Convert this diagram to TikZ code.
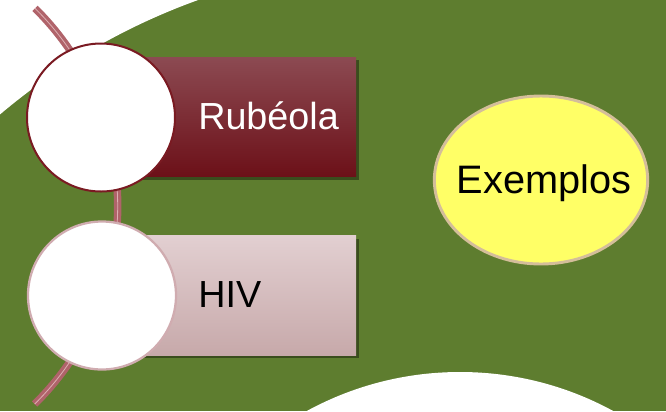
\documentclass[tikz,border=0pt]{standalone}
\usepackage{fontspec}
\setmainfont{Liberation Sans}
\usetikzlibrary{shadows,shapes.geometric}
\definecolor{bggreen}{HTML}{5E7D2F}
\definecolor{arcpink}{HTML}{B0636A}
\definecolor{arccore}{HTML}{DDB0B3}
\definecolor{darkred}{HTML}{7A1A22}
\definecolor{redtop}{HTML}{8C4A52}
\definecolor{redbot}{HTML}{6C1018}
\definecolor{pinktop}{HTML}{E2CFD1}
\definecolor{pinkbot}{HTML}{C7A9AA}
\definecolor{pinkborder}{HTML}{D0ACB0}
\definecolor{tan}{HTML}{D4BE9A}
\definecolor{lemon}{HTML}{FFFF66}
\tikzset{
  arcouter/.style={draw=arcpink, line width=5.6pt},
  arcinner/.style={draw=arccore, line width=0.6pt},
  bar/.style={rectangle, minimum width=191.25pt, minimum height=89.5pt, inner sep=0pt,
    drop shadow={shadow xshift=2pt, shadow yshift=-2.2pt, opacity=0.38, fill=black}},
  redbar/.style={bar, top color=redtop, middle color=darkred, bottom color=redbot},
  pinkbar/.style={bar, top color=pinktop, bottom color=pinkbot},
  disc/.style={circle, fill=white, minimum size=111pt, inner sep=0pt},
  lbl/.style={font=\fontsize{28.3}{34}\selectfont, inner sep=0pt, anchor=base west},
  oval/.style={ellipse, fill=lemon, draw=tan, line width=2.2pt, minimum width=160pt, minimum height=126pt, inner sep=0pt}
}
\begin{document}
\begin{tikzpicture}[x=0.75pt, y=0.75pt]
\useasboundingbox (0,0) rectangle (666,-411);
% background
\fill[bggreen] (0,0) rectangle (666,-411);
\fill[white] (416,-606) ++(130.24:644) arc[start angle=130.24, end angle=109.58, radius=644] -- (0,0) -- cycle;
\fill[white] (460,-692) circle (320);
% arc
\draw[arcouter] (-160,-206) ++(45.4:277.7) arc[start angle=45.4, end angle=-45.5, radius=277.7];
\draw[arcinner] (-160,-206) ++(45.4:277.7) arc[start angle=45.4, end angle=-45.5, radius=277.7];
% bars
\node[redbar] (bar1) at (228.5,-117) {};
\node[pinkbar] (bar2) at (228.5,-295.5) {};
% discs
\node[disc, draw=darkred, line width=1.5pt] (disc1) at (101,-117.5) {};
\node[disc, draw=pinkborder, line width=1.7pt] (disc2) at (102,-295.5) {};
% labels
\node[lbl, text=white] (t1) at (198,-129) {Rubéola};
\node[lbl, text=black] (t2) at (198,-307) {HIV};
% ellipse
\node[oval] (ex) at (541,-180) {};
\node[lbl, text=black, font=\fontsize{29.8}{36}\selectfont] (t3) at (456.5,-193.3) {Exemplos};
\end{tikzpicture}
\end{document}
